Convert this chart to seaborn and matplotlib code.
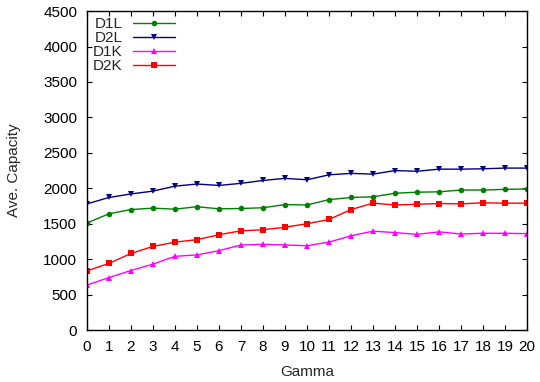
from matplotlib import pyplot as plt
import pandas as pd
import seaborn as sns
import numpy as np

gamma = list(range(21))
d1l = [1510, 1640, 1700, 1720, 1705, 1740, 1710, 1715, 1725, 1770, 1765,
       1840, 1870, 1880, 1930, 1945, 1950, 1975, 1975, 1985, 1990]
d2l = [1780, 1870, 1920, 1960, 2030, 2060, 2040, 2070, 2110, 2140, 2120,
       2190, 2210, 2200, 2250, 2240, 2270, 2270, 2275, 2285, 2285]
d1k = [635, 740, 840, 930, 1040, 1060, 1120, 1200, 1210, 1200, 1190,
       1240, 1330, 1395, 1375, 1350, 1385, 1355, 1365, 1365, 1360]
d2k = [835, 940, 1080, 1180, 1240, 1275, 1345, 1400, 1415, 1450, 1500,
       1560, 1700, 1790, 1765, 1775, 1785, 1780, 1795, 1790, 1790]

series = {'D1L': d1l, 'D2L': d2l, 'D1K': d1k, 'D2K': d2k}
rows = []
for name, vals in series.items():
    for g, v in zip(gamma, vals):
        rows.append({'gamma': g, 'capacity': v, 'series': name})
df = pd.DataFrame(rows)

sns.set_style('ticks')
plt.rcParams['font.family'] = ['Liberation Sans', 'DejaVu Sans']

palette = {'D1L': '#008000', 'D2L': '#000080', 'D1K': '#ff00ff', 'D2K': '#ff0000'}
markers = {'D1L': 'o', 'D2L': 'v', 'D1K': '^', 'D2K': 's'}

fig, ax = plt.subplots(figsize=(5.4, 3.82), dpi=100)
fig.subplots_adjust(left=0.161, right=0.976, top=0.971, bottom=0.136)

sns.lineplot(data=df, x='gamma', y='capacity', hue='series', style='series',
             palette=palette, markers=markers, dashes=False, markersize=4,
             markeredgewidth=0, linewidth=1, ax=ax)

ax.set_xlim(0, 20)
ax.set_ylim(0, 4500)
ax.set_xticks(gamma)
ax.set_yticks(np.arange(0, 4501, 500))
ax.tick_params(direction='in', top=True, right=True, length=3.6, width=0.8,
               labelsize=11, colors='black', pad=7)
for s in ax.spines.values():
    s.set_linewidth(1)
    s.set_color('black')
ax.set_xlabel('Gamma', fontsize=11, labelpad=8)
ax.set_ylabel('Ave. Capacity', fontsize=11, labelpad=16)

handles, labels = ax.get_legend_handles_labels()
ax.legend(handles, labels, loc='upper left', frameon=False, markerfirst=False,
          fontsize=11, handlelength=2.75, labelspacing=0.0,
          borderaxespad=0.0, handletextpad=0.65)

fig.savefig('out.png')
plt.close()
